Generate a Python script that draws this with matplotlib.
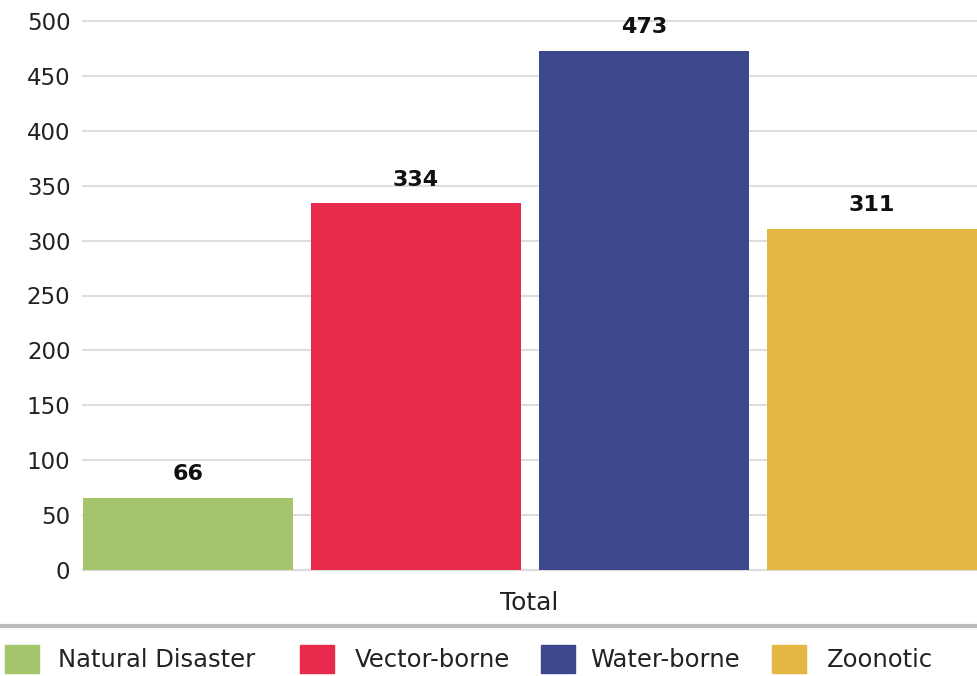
import matplotlib
matplotlib.use("Agg")
import matplotlib.pyplot as plt
from matplotlib.patches import Rectangle
from matplotlib.lines import Line2D

categories = ["Natural Disaster", "Vector-borne", "Water-borne", "Zoonotic"]
values = [66, 334, 473, 311]
colors = ["#A4C56B", "#E82B4D", "#3D478E", "#E3B741"]
y_ticks = [0, 50, 100, 150, 200, 250, 300, 350, 400, 450, 500]
x_label = "Total"

plt.rcParams["font.family"] = ["DejaVu Sans"]

W, H = 978, 676
fig = plt.figure(figsize=(W / 100, H / 100), dpi=100)
fig.patch.set_facecolor("white")

# axes box in pixel units -> figure fractions
ax = fig.add_axes([83 / W, (H - 570) / H, (W - 83) / W, (570 - 21) / H])
xs = list(range(len(values)))
bars = ax.bar(xs, values, width=0.921, color=colors, zorder=3)
for b, v in zip(bars, values):
    ax.text(b.get_x() + b.get_width() / 2, v + 12, str(v), ha="center", va="bottom",
            fontsize=16, fontweight="heavy", color="#111111", clip_on=False)

ax.set_xlim(-0.46, 3.465)
ax.set_ylim(0, 500)
ax.set_yticks(y_ticks)
ax.tick_params(axis="y", length=0, pad=9, labelsize=16.5, labelcolor="#222222")
ax.set_xticks([])
ax.grid(axis="y", color="#DDDDDD", linewidth=1.5, zorder=0)
for gl in ax.get_ygridlines():
    gl.set_clip_on(False)
for s in ["top", "right", "left"]:
    ax.spines[s].set_visible(False)
ax.spines["bottom"].set_color("#DDDDDD")
ax.spines["bottom"].set_linewidth(1.5)

fig.text(529 / W, 1 - 603 / H, x_label, ha="center", va="center", fontsize=18, color="#222222")

# separator line above legend
fig.add_artist(Line2D([0, 1], [1 - 626 / H] * 2, color="#BBBBBB", linewidth=3, transform=fig.transFigure))

# legend row, drawn by hand so it runs off the right edge like the original
box_x = [5, 300, 541, 772]
text_x = [58, 355, 590, 827]
for c, lab, bx, tx in zip(colors, categories, box_x, text_x):
    fig.add_artist(Rectangle((bx / W, 1 - 673 / H), 34 / W, 28 / H, color=c, transform=fig.transFigure))
    fig.text(tx / W, 1 - 660 / H, lab, ha="left", va="center", fontsize=17.5, color="#222222")

fig.savefig("out.png", dpi=100)
